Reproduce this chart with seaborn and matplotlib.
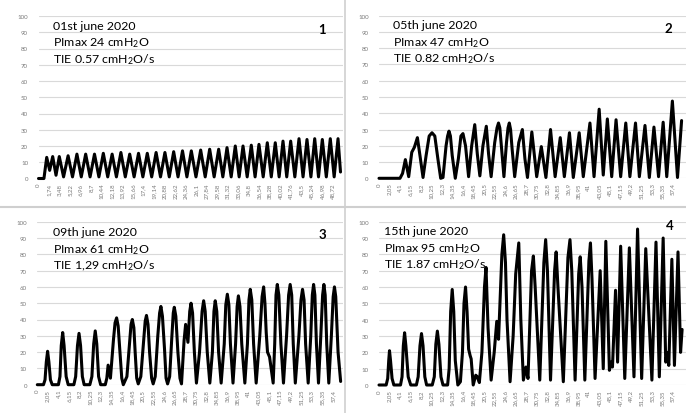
import numpy as np
import pandas as pd
import matplotlib
matplotlib.use("Agg")
import matplotlib.pyplot as plt
from matplotlib.lines import Line2D
import seaborn as sns

# ---------------- data ----------------
p1_t = [0, 0.9, 1.36, 1.85, 2.35, 2.9, 3.44, 4.15, 4.9, 5.63, 6.36, 7.08, 7.81, 8.54, 9.27, 10.0,
        10.73, 11.46, 12.19, 12.9, 13.64, 14.37, 15.1, 15.83, 16.56, 17.28, 18.01, 18.74, 19.47,
        20.2, 20.93, 21.65, 22.38, 23.1, 23.84, 24.57, 25.3, 26.07, 26.85, 27.6, 28.34, 29.08,
        29.83, 30.52, 31.21, 31.9, 32.58, 33.22, 33.86, 34.55, 35.23, 35.86, 36.5, 37.2, 37.88,
        38.54, 39.2, 39.84, 40.48, 41.1, 41.75, 42.44, 43.13, 43.8, 44.45, 45.1, 45.73, 46.36,
        46.99, 47.65, 48.31, 48.95, 49.59, 50.0]
p1_v = [0, 0, 13, 5, 13.5, 2, 13.5, 1, 14, 1, 15, 1, 15, 1, 15, 1,
        15.5, 1, 15, 1, 16, 1, 15, 1, 15.5, 1, 15.5, 1, 16,
        1, 16, 1, 16.5, 1, 17, 1, 17, 1, 17.5, 1, 18, 1,
        18, 1, 19, 1, 20, 1, 20, 1, 20.5, 1, 21, 1, 22,
        1, 22, 1, 23, 1, 23, 1, 24.5, 1, 24, 1, 24.5, 1,
        24, 1, 24.5, 1, 24.5, 4]

p2_t = [0, 4.1, 4.6, 5.15, 5.8, 6.4, 6.9, 7.5, 8.0, 8.6, 9.2, 9.8, 10.35, 10.9, 11.5, 12.05,
        12.5, 13.1, 13.4, 13.67, 13.95, 14.3, 14.9, 15.5, 16.0, 16.4, 16.9, 17.5, 18.1, 18.7,
        19.2, 19.7, 20.3, 20.96, 21.4, 21.9, 22.6, 23.05, 23.34, 23.6, 23.95, 24.4, 24.9, 25.2,
        25.45, 25.7, 26.0, 26.5, 27.3, 28.0, 28.5, 29.0, 29.85, 30.8, 31.7, 32.6, 33.5, 34.4,
        35.4, 36.2, 37.2, 37.95, 39.1, 39.9, 41.2, 42.0, 43.0, 43.8, 44.6, 45.45, 46.3, 47.2,
        48.2, 49.0, 50.1, 50.85, 51.95, 52.8, 53.7, 54.6, 55.5, 56.2, 57.3, 58.3, 59.1]
p2_v = [0, 0, 3, 11.5, 1, 16, 19, 25, 14, 0.5, 14, 26, 28, 26, 12, 0,
        0.5, 20, 26, 29, 26, 14, 0, 12, 26, 27.5, 20, 1, 20, 33,
        15, 1.5, 20, 32, 15, 1, 22, 31, 34, 31, 18, 1, 22, 31,
        34, 30, 18, 1, 22, 30, 12, 0.5, 28.5, 1, 19.5, 0.5, 30, 1,
        25, 1, 28, 0.5, 28, 1, 34, 1, 42.5, 2, 36.5, 1, 36, 1,
        34, 1, 34, 1, 32.5, 0.5, 31.5, 1, 34.5, 1, 47.5, 0.5, 35.5]

p3_t = [0, 1.2, 1.5, 1.75, 2.0, 2.25, 2.55, 2.9, 4.1, 4.4, 4.65, 4.93, 5.2, 5.6, 6.0,
        7.1, 7.45, 7.8, 8.1, 8.4, 8.75, 9.1, 10.2, 10.6, 10.95, 11.25, 11.55, 11.9, 12.3,
        13.2, 13.5, 13.75, 14.2, 14.8, 15.1, 15.4, 15.7, 16.0, 16.4, 16.7, 17.4, 17.9, 18.2,
        18.45, 18.75, 19.0, 19.3, 19.6, 20.1, 20.6, 20.95, 21.2, 21.5, 21.8, 22.2, 22.5, 22.9,
        23.4, 23.75, 24.0, 24.3, 24.7, 25.0, 25.3, 25.7, 26.1, 26.4, 26.6, 26.9, 27.3, 27.7,
        28.0, 28.5, 28.8, 29.25, 29.6, 29.85, 30.15, 30.5, 30.9, 31.5, 32.0, 32.3, 32.6, 33.0,
        33.5, 34.0, 34.3, 34.55, 34.85, 35.2, 35.7, 36.3, 36.6, 36.9, 37.2, 37.5, 38.0, 38.5,
        38.8, 39.05, 39.35, 39.7, 40.3, 40.8, 41.1, 41.35, 41.65, 42.0, 42.5, 43.2, 43.65, 43.95,
        44.2, 44.45, 44.7, 45.1, 45.8, 46.1, 46.35, 46.6, 46.9, 47.3, 47.8, 48.4, 48.8, 49.1,
        49.4, 49.7, 50.1, 50.8, 51.2, 51.5, 51.8, 52.1, 52.6, 53.1, 53.4, 53.65, 53.9, 54.2,
        54.6, 55.05, 55.4, 55.65, 55.9, 56.2, 56.6, 57.1, 57.45, 57.7, 57.95, 58.4, 58.9]
p3_v = [0, 0, 3, 14, 20.5, 14, 3, 0, 0, 5, 24, 32, 24, 5, 0,
        0, 5, 24, 31.5, 24, 5, 0, 0, 5, 25, 33, 25, 5, 0,
        0, 4, 12, 4, 28, 38, 41, 36, 22, 4, 0, 5, 25, 37,
        40, 35, 20, 4, 0.5, 5, 25, 39, 42.5, 37, 20, 4, 0.5, 5,
        30, 44, 48, 42, 22, 4, 0.5, 5, 28, 44, 47.5, 42, 20, 4,
        0.5, 27, 37, 26, 45, 50, 44, 20, 1, 20, 45, 51.5, 45, 20,
        1, 20, 45, 51.5, 45, 20, 1, 25, 49, 55.5, 49, 25, 1, 25,
        48, 54.5, 48, 25, 1, 25, 52, 58.5, 52, 25, 1, 30, 54, 60,
        50, 32, 20, 17, 1, 25, 55, 61.5, 55, 25, 1, 30, 55, 61.5,
        55, 25, 1, 30, 52, 58.5, 52, 25, 1, 30, 55, 61.5, 55, 25,
        1, 30, 55, 61.5, 55, 25, 1, 30, 54, 60, 54, 20, 2]

p4_t = [0, 1.4, 1.7, 1.9, 2.05, 2.25, 2.55, 2.9, 4.2, 4.5, 4.75, 5.0, 5.25, 5.7, 6.2,
        7.3, 7.65, 8.0, 8.3, 8.6, 8.95, 9.3, 10.4, 10.8, 11.1, 11.4, 11.7, 12.1, 12.5,
        13.4, 13.7, 14.0, 14.3, 14.6, 14.9, 15.4, 15.9, 16.3, 16.6, 16.9, 17.2, 17.5, 17.8,
        18.0, 18.4, 18.9, 19.2, 19.6, 20.1, 20.6, 20.9, 21.3, 21.9, 22.5, 23.0, 23.35, 24.0,
        24.35, 24.7, 25.0, 25.6, 26.2, 26.7, 27.3, 27.7, 28.2, 28.7, 29.1, 29.8, 30.15, 30.5,
        31.4, 32.2, 32.55, 32.9, 33.5, 34.3, 34.6, 34.95, 36.0, 36.9, 37.3, 37.65, 38.3, 39.0,
        39.3, 39.65, 40.2, 41.0, 41.3, 41.6, 42.2, 43.2, 43.8, 44.3, 45.0, 45.3, 45.6, 46.2,
        46.6, 47.2, 48.0, 48.9, 49.8, 50.5, 51.3, 52.1, 53.3, 54.1, 54.75, 55.5, 56.0, 56.3,
        56.6, 57.2, 57.7, 58.4, 58.9, 59.2]
p4_v = [0, 0, 4, 15, 21, 15, 4, 0, 0, 5, 24, 32, 24, 5, 0,
        0, 5, 24, 31.5, 24, 5, 0, 0, 5, 25, 33, 25, 5, 0,
        0, 10, 45, 58.5, 45, 15, 0, 2, 20, 50, 60, 45, 22, 18,
        16, 0, 6, 5, 1.5, 20, 60, 72, 35, 3, 20, 39, 28, 80,
        92, 75, 40, 2, 30, 68, 87, 40, 3, 11, 4, 70, 79, 60,
        3, 75, 89, 70, 3, 70, 81.5, 60, 2, 78, 89, 70, 3, 68,
        78.5, 60, 3, 76, 87, 65, 4, 70, 10, 88, 9, 14, 11, 58,
        14, 85, 4, 84, 5, 95.5, 4, 83.5, 3, 87.5, 5, 90, 14, 20,
        12, 77, 12, 81.5, 20, 34]

labels_a = ["0", "1,74", "3,48", "5,22", "6,96", "8,7", "10,44", "12,18", "13,92", "15,66",
            "17,4", "19,14", "20,88", "22,62", "24,36", "26,1", "27,84", "29,58", "31,32",
            "33,06", "34,8", "36,54", "38,28", "40,02", "41,76", "43,5", "45,24", "46,98", "48,72"]
labels_b = ["0", "2,05", "4,1", "6,15", "8,2", "10,25", "12,3", "14,35", "16,4", "18,45",
            "20,5", "22,55", "24,6", "26,65", "28,7", "30,75", "32,8", "34,85", "36,9", "38,95",
            "41", "43,05", "45,1", "47,15", "49,2", "51,25", "53,3", "55,35", "57,4"]
y_ticks = [0, 10, 20, 30, 40, 50, 60, 70, 80, 90, 100]

titles = ["01st june 2020", "05th june 2020", "09th june 2020", "15th june 2020"]
pimax = ["PImax 24 cmH$_2$O", "PImax 47 cmH$_2$O", "PImax 61 cmH$_2$O", "PImax 95 cmH$_2$O"]
tie = ["TIE 0.57 cmH$_2$O/s", "TIE 0.82 cmH$_2$O/s", "TIE 1,29 cmH$_2$O/s", "TIE 1.87 cmH$_2$O/s"]
numbers = ["1", "2", "3", "4"]

# ---------------- style ----------------
sns.set_style("white")
plt.rcParams['font.family'] = ['Lato', 'DejaVu Sans']
plt.rcParams['mathtext.fontset'] = 'custom'
plt.rcParams['mathtext.rm'] = 'Lato'
plt.rcParams['mathtext.it'] = 'Lato:italic'
plt.rcParams['mathtext.bf'] = 'Lato:bold'

W, H = 686, 414
fig = plt.figure(figsize=(W / 100, H / 100), dpi=100)


def add_ax(x0, x1, ytop, ybot):
    return fig.add_axes([x0 / W, 1 - ybot / H, (x1 - x0) / W, (ybot - ytop) / H])


# (x of t=0, right edge, y of 100, y of 0, px per second)
geo = [(38.5, 343, 17.0, 179.5, 6.04),
       (379.0, 686, 16.7, 179.3, 5.12),
       (37.3, 343, 222.7, 385.7, 5.15),
       (379.0, 686, 222.7, 386.0, 5.12)]
series = [(p1_t, p1_v, labels_a), (p2_t, p2_v, labels_b),
          (p3_t, p3_v, labels_b), (p4_t, p4_v, labels_b)]
text_pos = [(53, 30.0), (393, 29.3), (53, 236.3), (384, 235.3)]
num_pos = [(322, 34.0), (668, 33.3), (322, 238.7), (670, 230.3)]

for i, ((x0, x1, y100, y0, pps), (tt, vv, labs)) in enumerate(zip(geo, series)):
    ax = add_ax(x0, x1, y100, y0)
    df = pd.DataFrame({"t": tt, "v": vv})
    sns.lineplot(data=df, x="t", y="v", ax=ax, color="black", linewidth=2.2,
                 estimator=None, sort=False)
    for ln in ax.lines:
        ln.set_clip_on(False)
        ln.set_solid_joinstyle("round")
        ln.set_solid_capstyle("round")
    ax.set_xlim(0, (x1 - x0) / pps)
    ax.set_ylim(0, 100)
    ax.set_yticks(y_ticks)
    ax.set_yticklabels([str(v) for v in y_ticks])
    pos = [float(s.replace(",", ".")) for s in labs]
    ax.set_xticks(pos)
    ax.set_xticklabels(labs, rotation=90)
    ax.grid(axis="y", color="#d9d9d9", linewidth=0.8)
    ax.grid(axis="x", visible=False)
    ax.set_axisbelow(True)
    for s in ax.spines.values():
        s.set_visible(False)
    ax.tick_params(axis="y", length=0, pad=7.5, labelsize=4.4, labelcolor="#7a7a7a")
    ax.tick_params(axis="x", length=0, pad=3.0, labelsize=4.4, labelcolor="#7a7a7a")
    ax.set_xlabel("")
    ax.set_ylabel("")

    tx, ty = text_pos[i]
    for k, s in enumerate([titles[i], pimax[i], tie[i]]):
        fig.text(tx / W, 1 - (ty + k * 16.6) / H, s, fontsize=8.9, color="black",
                 ha="left", va="baseline")
    nx, ny = num_pos[i]
    fig.text(nx / W, 1 - ny / H, numbers[i], fontsize=9.5, fontweight="bold",
             color="black", ha="center", va="baseline")

# panel separators
fig.add_artist(Line2D([344.5 / W, 344.5 / W], [0, 1], color="#cfcfcf", linewidth=1.2))
fig.add_artist(Line2D([0, 1], [1 - 208 / H, 1 - 208 / H], color="#cfcfcf", linewidth=1.5))

fig.savefig("out.png", dpi=100)
